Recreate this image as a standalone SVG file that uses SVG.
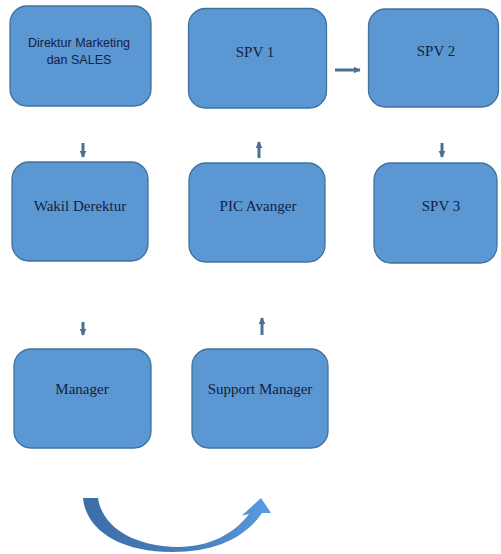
<svg xmlns="http://www.w3.org/2000/svg" width="501" height="554" viewBox="0 0 501 554">
<style>
.box{fill:#5b97d3;stroke:#41719c;stroke-width:1.3}
.t{font-family:"Liberation Serif","Times New Roman",serif;font-size:15px;fill:#13223c;text-anchor:middle}
.s{font-family:"Liberation Sans",Arial,sans-serif;font-size:12.5px;fill:#13223c;text-anchor:middle}
.ar{stroke:#4f6f93;stroke-width:3;fill:none}
</style>
<defs>
<marker id="ah" viewBox="0 0 10 10" refX="9" refY="5" markerWidth="2.3" markerHeight="2.4" orient="auto" markerUnits="strokeWidth">
<path d="M0,0 L10,5 L0,10 Z" fill="#4f6f93"/>
</marker>
<linearGradient id="cg" x1="0" y1="0" x2="1" y2="0">
<stop offset="0" stop-color="#3c6ea8"/>
<stop offset="0.6" stop-color="#477fbd"/>
<stop offset="1" stop-color="#5a9be0"/>
</linearGradient>
</defs>
<rect width="501" height="554" fill="#ffffff"/>
<g id="n-direktur"><rect class="box" x="10" y="6" width="141" height="100" rx="17"/>
<text class="s" x="79" y="47">Direktur Marketing</text>
<text class="s" x="79" y="64">dan SALES</text></g>
<g id="n-spv1"><rect class="box" x="188.5" y="8.5" width="138" height="99.5" rx="17"/>
<text class="t" x="255" y="57">SPV 1</text></g>
<g id="n-spv2"><rect class="box" x="368.5" y="9" width="130" height="98" rx="17"/>
<text class="t" x="436" y="56">SPV 2</text></g>
<g id="n-wakil"><rect class="box" x="12" y="162" width="136" height="99" rx="17"/>
<text class="t" x="80" y="211">Wakil Derektur</text></g>
<g id="n-pic"><rect class="box" x="189" y="163" width="136" height="99" rx="17"/>
<text class="t" x="258" y="211">PIC Avanger</text></g>
<g id="n-spv3"><rect class="box" x="374" y="163" width="123" height="100" rx="17"/>
<text class="t" x="441" y="211">SPV 3</text></g>
<g id="n-manager"><rect class="box" x="14" y="349" width="137" height="99" rx="17"/>
<text class="t" x="82" y="394">Manager</text></g>
<g id="n-support"><rect class="box" x="192" y="349" width="136" height="99" rx="17"/>
<text class="t" x="260" y="394">Support Manager</text></g>
<g id="connectors">
<line class="ar" x1="83" y1="143" x2="83" y2="157" marker-end="url(#ah)"/>
<line class="ar" x1="259" y1="158" x2="259" y2="142" marker-end="url(#ah)"/>
<line class="ar" x1="335" y1="70" x2="360" y2="70" marker-end="url(#ah)"/>
<line class="ar" x1="442" y1="143" x2="442" y2="157" marker-end="url(#ah)"/>
<line class="ar" x1="83" y1="322" x2="83" y2="335" marker-end="url(#ah)"/>
<line class="ar" x1="262" y1="335" x2="262" y2="318" marker-end="url(#ah)"/>
<path d="M83,498 L98,498 C102,525 130,546 178,547 C210,547 235,533 249,514 L242,515.5 L261,498 L271,513 L262,513 C245,538 215,552 172,552 C120,552 86,530 83,498 Z" fill="url(#cg)"/>
</g>
</svg>
